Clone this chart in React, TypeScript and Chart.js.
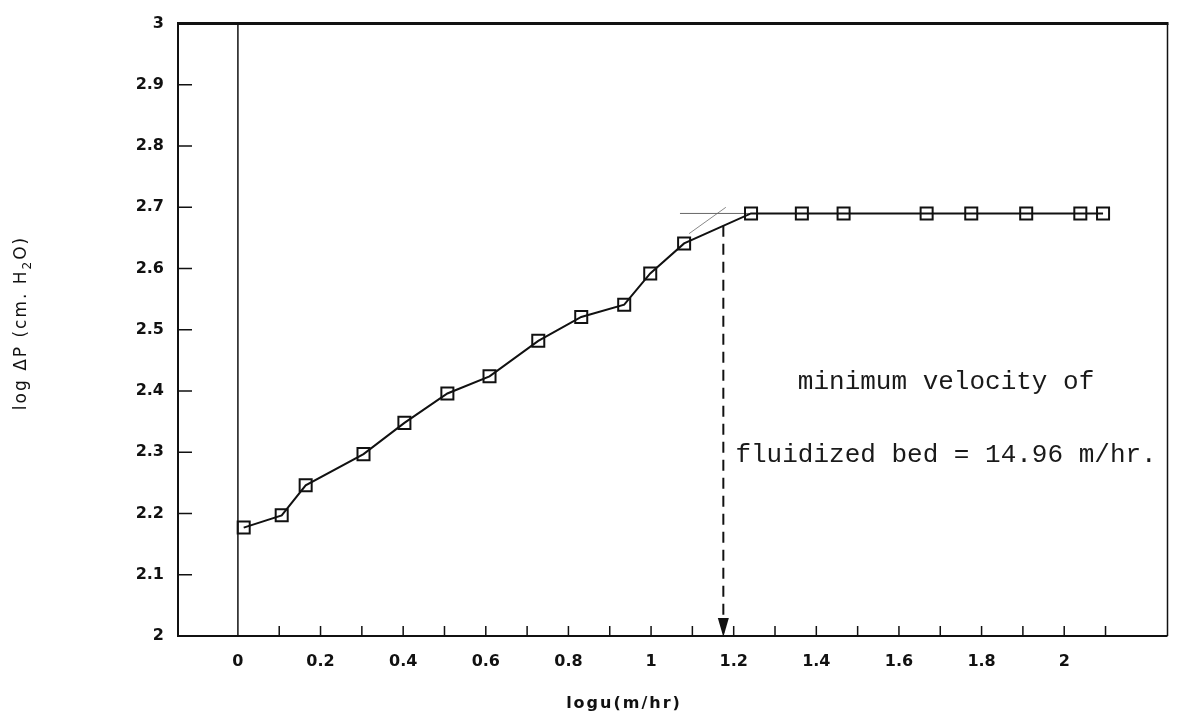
import React, { useEffect, useRef } from 'react';
import { Chart, registerables } from 'chart.js';

Chart.register(...registerables);

// Measured points: log of superficial velocity u (m/hr) vs log of bed pressure drop (cm H2O)
const LOG_U = [0.014, 0.106, 0.164, 0.304, 0.403, 0.507, 0.609, 0.727, 0.831, 0.935, 0.998, 1.08, 1.242, 1.365, 1.466, 1.667, 1.775, 1.908, 2.039, 2.094];
const LOG_DP = [2.177, 2.197, 2.246, 2.297, 2.348, 2.396, 2.424, 2.482, 2.521, 2.541, 2.592, 2.641, 2.69, 2.69, 2.69, 2.69, 2.69, 2.69, 2.69, 2.69];

// Construction lines used to locate the onset of fluidization
const PLATEAU_GUIDE_X = [1.07, 1.242];
const PLATEAU_GUIDE_Y = [2.69, 2.69];
const RISE_GUIDE_X = [1.092, 1.181];
const RISE_GUIDE_Y = [2.657, 2.7];

// Minimum fluidization velocity (m/hr); the dashed arrow drops from the curve at log10 of it
const MIN_FLUID_VELOCITY = 14.96;
const ARROW_TOP_Y = 2.67;

// Axis ticks
const X_TICK_VALUES = [0, 0.2, 0.4, 0.6, 0.8, 1, 1.2, 1.4, 1.6, 1.8, 2];
const X_TICK_LABELS = ['0', '0.2', '0.4', '0.6', '0.8', '1', '1.2', '1.4', '1.6', '1.8', '2'];
const X_MINOR_TICKS = [0.1, 0.2, 0.3, 0.4, 0.5, 0.6, 0.7, 0.8, 0.9, 1, 1.1, 1.2, 1.3, 1.4, 1.5, 1.6, 1.7, 1.8, 1.9, 2, 2.1];
const Y_TICK_VALUES = [2, 2.1, 2.2, 2.3, 2.4, 2.5, 2.6, 2.7, 2.8, 2.9, 3];
const Y_TICK_LABELS = ['2', '2.1', '2.2', '2.3', '2.4', '2.5', '2.6', '2.7', '2.8', '2.9', '3'];

const X_TITLE = 'logu(m/hr)';
const Y_TITLE_MAIN = 'log ΔP (cm. H';
const Y_TITLE_SUB = '2';
const Y_TITLE_END = 'O)';

const NOTE_LINES = ['minimum velocity of', 'fluidized bed = 14.96 m/hr.'];
const NOTE_X = 1.714;
const NOTE_Y = [2.403, 2.284];

const INK = '#111111';

const framePlugin = {
  id: 'frameAndNotes',
  afterDraw(chart: any) {
    const ctx: CanvasRenderingContext2D = chart.ctx;
    const { left, right, top, bottom } = chart.chartArea;
    const xs = chart.scales.x;
    const ys = chart.scales.y;

    ctx.save();
    ctx.strokeStyle = INK;
    ctx.lineCap = 'butt';

    // plot frame
    ctx.lineWidth = 3;
    ctx.beginPath();
    ctx.moveTo(left - 1, top);
    ctx.lineTo(right + 1, top);
    ctx.stroke();

    ctx.lineWidth = 2;
    ctx.beginPath();
    ctx.moveTo(left, top);
    ctx.lineTo(left, bottom);
    ctx.lineTo(right, bottom);
    ctx.stroke();

    ctx.lineWidth = 1.5;
    ctx.beginPath();
    ctx.moveTo(right, top);
    ctx.lineTo(right, bottom);
    ctx.stroke();

    // vertical line at log u = 0
    const x0 = xs.getPixelForValue(0);
    ctx.lineWidth = 1.5;
    ctx.beginPath();
    ctx.moveTo(x0, top);
    ctx.lineTo(x0, bottom);
    ctx.stroke();

    // inward tick marks
    ctx.lineWidth = 1.5;
    ctx.beginPath();
    X_MINOR_TICKS.forEach((v) => {
      const px = xs.getPixelForValue(v);
      ctx.moveTo(px, bottom);
      ctx.lineTo(px, bottom - 10);
    });
    Y_TICK_VALUES.slice(1, -1).forEach((v) => {
      const py = ys.getPixelForValue(v);
      ctx.moveTo(left, py);
      ctx.lineTo(left + 14, py);
    });
    ctx.stroke();

    // arrow head at the foot of the dashed line
    const ax = xs.getPixelForValue(Math.log10(MIN_FLUID_VELOCITY));
    const ay = ys.getPixelForValue(2);
    ctx.fillStyle = INK;
    ctx.beginPath();
    ctx.moveTo(ax, ay + 1);
    ctx.lineTo(ax - 5.5, ay - 18);
    ctx.lineTo(ax + 5.5, ay - 18);
    ctx.closePath();
    ctx.fill();

    // x axis title
    ctx.fillStyle = INK;
    ctx.font = 'bold 16px "DejaVu Sans"';
    (ctx as any).letterSpacing = '2px';
    ctx.textAlign = 'center';
    ctx.textBaseline = 'alphabetic';
    ctx.fillText(X_TITLE, 624, 708);

    // y axis title with subscript
    ctx.save();
    ctx.translate(26, 323);
    ctx.rotate(-Math.PI / 2);
    ctx.textAlign = 'left';
    const mainFont = '17px "DejaVu Sans"';
    const subFont = '12px "DejaVu Sans"';
    ctx.font = mainFont;
    const w1 = ctx.measureText(Y_TITLE_MAIN).width;
    const w3 = ctx.measureText(Y_TITLE_END).width;
    ctx.font = subFont;
    const w2 = ctx.measureText(Y_TITLE_SUB).width;
    const total = w1 + w2 + w3;
    let cx = -total / 2;
    ctx.font = mainFont;
    ctx.fillText(Y_TITLE_MAIN, cx, 0);
    cx += w1;
    ctx.font = subFont;
    ctx.fillText(Y_TITLE_SUB, cx, 5);
    cx += w2;
    ctx.font = mainFont;
    ctx.fillText(Y_TITLE_END, cx, 0);
    ctx.restore();

    // annotation
    (ctx as any).letterSpacing = '0px';
    ctx.font = '26px "Liberation Mono"';
    ctx.fillStyle = '#1a1a1a';
    ctx.textAlign = 'center';
    NOTE_LINES.forEach((line, i) => {
      ctx.fillText(line, xs.getPixelForValue(NOTE_X), ys.getPixelForValue(NOTE_Y[i]));
    });

    ctx.restore();
  },
};

export default function App() {
  const canvasRef = useRef<HTMLCanvasElement | null>(null);

  useEffect(() => {
    if (!canvasRef.current) return;
    const arrowX = Math.log10(MIN_FLUID_VELOCITY);

    const chart = new Chart(canvasRef.current, {
      type: 'line',
      data: {
        datasets: [
          {
            label: 'log ΔP',
            data: LOG_U.map((x, i) => ({ x, y: LOG_DP[i] })),
            borderColor: INK,
            borderWidth: 2,
            pointStyle: 'rect',
            pointRadius: 8.5,
            pointBorderWidth: 2,
            pointBorderColor: INK,
            pointBackgroundColor: 'rgba(0,0,0,0)',
            tension: 0,
          },
          {
            label: 'plateau guide',
            data: PLATEAU_GUIDE_X.map((x, i) => ({ x, y: PLATEAU_GUIDE_Y[i] })),
            borderColor: '#666666',
            borderWidth: 1,
            pointRadius: 0,
          },
          {
            label: 'rise guide',
            data: RISE_GUIDE_X.map((x, i) => ({ x, y: RISE_GUIDE_Y[i] })),
            borderColor: '#888888',
            borderWidth: 1,
            pointRadius: 0,
          },
          {
            label: 'minimum fluidization',
            data: [
              { x: arrowX, y: ARROW_TOP_Y },
              { x: arrowX, y: 2 },
            ],
            borderColor: INK,
            borderWidth: 2,
            borderDash: [11, 7],
            pointRadius: 0,
          },
        ],
      },
      options: {
        animation: false,
        responsive: false,
        layout: { padding: { top: 18, right: 8, left: 0, bottom: 0 } },
        plugins: {
          legend: { display: false },
          tooltip: { enabled: false },
        },
        scales: {
          x: {
            type: 'linear',
            min: -0.145,
            max: 2.25,
            grid: { display: false, drawTicks: false },
            border: { display: false },
            afterBuildTicks: (s: any) => {
              s.ticks = X_TICK_VALUES.map((value) => ({ value }));
            },
            afterFit: (s: any) => {
              s.height = 85;
            },
            ticks: {
              autoSkip: false,
              maxRotation: 0,
              padding: 16,
              color: INK,
              font: { family: '"DejaVu Sans"', size: 16, weight: 'bold' },
              callback: (v: any) => {
                const i = X_TICK_VALUES.findIndex((t) => Math.abs(t - Number(v)) < 1e-6);
                return i >= 0 ? X_TICK_LABELS[i] : '';
              },
            },
          },
          y: {
            type: 'linear',
            min: 2,
            max: 3,
            grid: { display: false, drawTicks: false },
            border: { display: false },
            afterBuildTicks: (s: any) => {
              s.ticks = Y_TICK_VALUES.map((value) => ({ value }));
            },
            afterFit: (s: any) => {
              s.width = 178;
            },
            ticks: {
              autoSkip: false,
              padding: 14,
              color: INK,
              font: { family: '"DejaVu Sans"', size: 16, weight: 'bold' },
              callback: (v: any) => {
                const i = Y_TICK_VALUES.findIndex((t) => Math.abs(t - Number(v)) < 1e-6);
                return i >= 0 ? Y_TICK_LABELS[i] : '';
              },
            },
          },
        },
      },
      plugins: [framePlugin],
    });

    return () => chart.destroy();
  }, []);

  return (
    <div style={{ position: 'absolute', left: 0, top: 0, width: 1178, height: 721, background: '#ffffff' }}>
      <canvas ref={canvasRef} width={1178} height={721} style={{ display: 'block' }} />
    </div>
  );
}
